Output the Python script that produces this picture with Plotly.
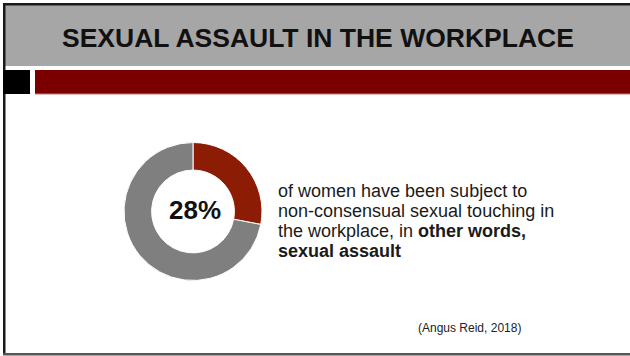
import plotly.graph_objects as go

# ---- data ----
labels = ["Subject to non-consensual sexual touching", "Not subject"]
values = [28, 72]
slice_colors = ["#8C1D04", "#7F7F7F"]
center_label = "28%"
title_text = "SEXUAL ASSAULT IN THE WORKPLACE"
body_lines = [
    "of women have been subject to",
    "non-consensual sexual touching in",
    "the workplace, in <b>other words,</b>",
    "<b>sexual assault</b>",
]
source_text = "(Angus Reid, 2018)"

W, H = 630, 356
FONT = "Liberation Sans, Arial, sans-serif"


def px(x):
    return x / W


def py(y):
    return 1 - y / H


fig = go.Figure()

fig.add_trace(go.Pie(
    labels=labels,
    values=values,
    sort=False,
    direction="clockwise",
    rotation=0,
    hole=0.6,
    marker=dict(colors=slice_colors, line=dict(color="white", width=1)),
    textinfo="none",
    hoverinfo="label+percent",
    showlegend=False,
    domain=dict(x=[px(124), px(262)], y=[py(280.5), py(142.5)]),
))

RIGHT = 1
shapes = [
    # header gray band
    dict(type="rect", x0=px(5), x1=RIGHT, y0=py(66), y1=py(4),
         fillcolor="#A6A6A6"),
    # top border
    dict(type="rect", x0=px(3), x1=RIGHT, y0=py(5.5), y1=py(3),
         fillcolor="#1A1A1A"),
    # left border
    dict(type="rect", x0=px(3), x1=px(5.5), y0=py(355), y1=py(3),
         fillcolor="#1A1A1A"),
    # bottom border
    dict(type="rect", x0=px(3), x1=RIGHT, y0=py(355.5), y1=py(353),
         fillcolor="#555555"),
    # black square
    dict(type="rect", x0=px(3), x1=px(30), y0=py(94), y1=py(70),
         fillcolor="#000000"),
    # dark red bar with light lower edge
    dict(type="rect", x0=px(35), x1=RIGHT, y0=py(94.5), y1=py(70),
         fillcolor="#C07878"),
    dict(type="rect", x0=px(35), x1=RIGHT, y0=py(93.5), y1=py(70),
         fillcolor="#7A0000"),
]

annotations = [
    dict(text="<b>" + title_text + "</b>", x=px(318), y=py(37.5),
         font=dict(family=FONT, size=26.5, color="#111111")),
    dict(text="<b>" + center_label + "</b>", x=px(195), y=py(209.5),
         font=dict(family=FONT, size=26, color="#111111")),
    dict(text=source_text, x=px(469), y=py(328),
         font=dict(family=FONT, size=12, color="#222222")),
]
line_centers = [190.5, 210.5, 230.5, 250.5]
for t, yc in zip(body_lines, line_centers):
    annotations.append(dict(
        text=t, x=px(276), y=py(yc), xanchor="left",
        font=dict(family=FONT, size=18, color="#1A1A1A")))

for a in annotations:
    a.update(xref="paper", yref="paper", showarrow=False)
    a.setdefault("xanchor", "center")
    a.setdefault("yanchor", "middle")

for s in shapes:
    s.update(xref="paper", yref="paper", layer="below",
             line=dict(width=0, color="rgba(0,0,0,0)"))

fig.update_layout(
    width=W, height=H,
    margin=dict(l=0, r=0, t=0, b=0),
    paper_bgcolor="white",
    plot_bgcolor="white",
    shapes=shapes,
    annotations=annotations,
)

fig.write_html("out.html", config=dict(displayModeBar=False))
